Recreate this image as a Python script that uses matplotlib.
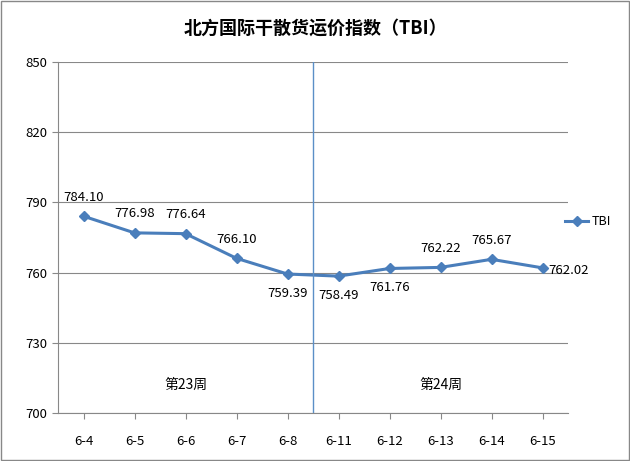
import matplotlib
matplotlib.use("Agg")
import matplotlib.pyplot as plt
from matplotlib.patches import Rectangle

plt.rcParams['font.family'] = ['Noto Sans CJK SC', 'DejaVu Sans']

dates = ["6-4", "6-5", "6-6", "6-7", "6-8", "6-11", "6-12", "6-13", "6-14", "6-15"]
values = [784.10, 776.98, 776.64, 766.10, 759.39, 758.49, 761.76, 762.22, 765.67, 762.02]
label_pos = ["above", "above", "above", "above", "below", "below", "below", "above", "above", "right"]
weeks = ["第23周", "第24周"]

fig = plt.figure(figsize=(6.30, 4.61), dpi=100)
ax = fig.add_axes([58/630, 1-413/461, 510/630, 351/461])
color = "#4a7ebb"
x = list(range(len(dates)))
ax.plot(x, values, color=color, lw=2.2, marker="D", ms=5, label="TBI")
for i, (v, p) in enumerate(zip(values, label_pos)):
    if p == "above":
        ax.annotate(f"{v:.2f}", (i, v), xytext=(0, 9), textcoords="offset points", ha="center", va="bottom", fontsize=9.5)
    elif p == "below":
        ax.annotate(f"{v:.2f}", (i, v), xytext=(0, -9), textcoords="offset points", ha="center", va="top", fontsize=9.5)
    else:
        ax.annotate(f"{v:.2f}", (i, v), xytext=(4, -2), textcoords="offset points", ha="left", va="center", fontsize=9.5)

ax.axvline(4.5, color="#5b8fc7", lw=1)
ax.text(2, 709, weeks[0], ha="center", va="bottom", fontsize=10)
ax.text(7, 709, weeks[1], ha="center", va="bottom", fontsize=10)

ax.set_xlim(-0.5, 9.5)
ax.set_ylim(700, 850)
ax.set_yticks(range(700, 851, 30))
ax.set_xticks(x)
ax.set_xticklabels(dates)
ax.tick_params(labelsize=9.5, length=4, color="#888888")
ax.tick_params(axis="x", pad=12)
ax.grid(axis="y", color="#888888", lw=0.8)
for s in ["top", "right"]:
    ax.spines[s].set_visible(False)
for s in ["left", "bottom"]:
    ax.spines[s].set_color("#888888")
ax.set_axisbelow(True)

fig.text(0.5, 1-28/461, "北方国际干散货运价指数（TBI）", ha="center", va="center", fontsize=13, fontweight="bold")
ax.legend(loc="center left", bbox_to_anchor=(0.995, 0.545), frameon=False, fontsize=9,
          handlelength=1.8, handletextpad=0.3, borderpad=0, borderaxespad=0)
fig.patches.append(Rectangle((0.002, 0.002), 0.996, 0.996, transform=fig.transFigure, fill=False, ec="#888888", lw=1))
fig.savefig("out.png", dpi=100)
